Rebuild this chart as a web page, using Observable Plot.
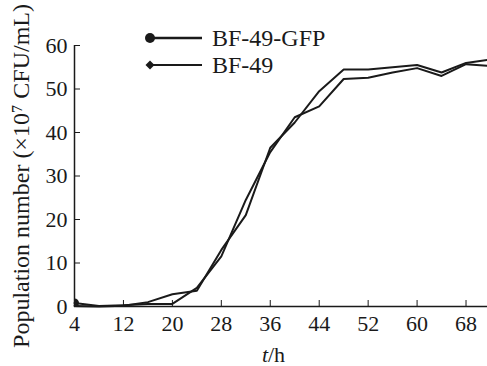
<!DOCTYPE html>
<html><head><meta charset="utf-8">
<script src="https://cdn.jsdelivr.net/npm/d3@7"></script>
<script src="https://cdn.jsdelivr.net/npm/@observablehq/plot@0.6"></script>
<style>
body{margin:0;background:#fff;}
#wrap{position:relative;width:487px;height:366px;overflow:hidden;font-family:"Liberation Serif","Times New Roman",serif;}
</style></head><body><div id="wrap"></div>
<script>
const hours = [4, 8, 12, 16, 20, 24, 28, 32, 36, 40, 44, 48, 52, 56, 60, 64, 68, 72];
const gfpValues = [0.8, 0.1, 0.3, 0.6, 0.6, 4.3, 11.5, 24.5, 35.5, 43.5, 46.0, 52.3, 52.6, 53.8, 54.8, 53.0, 55.7, 55.3];
const bf49Values = [0.1, 0.0, 0.2, 1.0, 2.8, 3.6, 13.0, 21.0, 36.5, 42.3, 49.5, 54.5, 54.5, 55.0, 55.5, 53.8, 56.0, 56.8];
const seriesNames = ["BF-49-GFP", "BF-49"];
const xTicks = [4, 12, 20, 28, 36, 44, 52, 60, 68];
const yTicks = [0, 10, 20, 30, 40, 50, 60];
const xLabel = "t/h";
const yLabel = "Population number (×10⁷ CFU/mL)";

const rows = [
  ...hours.map((t, i) => ({t, v: gfpValues[i], series: seriesNames[0]})),
  ...hours.map((t, i) => ({t, v: bf49Values[i], series: seriesNames[1]}))
];
const firstPoints = [rows[0], rows[hours.length]];
const ink = "#1a1a1a";
const font = '"Liberation Serif","Times New Roman",serif';

const chart = Plot.plot({
  width: 487, height: 366,
  marginLeft: 74, marginRight: -3, marginTop: 45, marginBottom: 60,
  style: {fontFamily: font, fontSize: "22px", color: ink, background: "#fff"},
  x: {domain: [4, 72]},
  y: {domain: [0, 60]},
  marks: [
    Plot.axisX({ticks: xTicks, tickSize: -6, tickPadding: 15, tickFormat: d => String(d), label: xLabel, labelAnchor: "center", labelArrow: "none", labelOffset: 55, stroke: ink}),
    Plot.axisY({ticks: yTicks, tickSize: -6, tickPadding: 13, tickFormat: d => String(d), label: yLabel, labelAnchor: "center", labelArrow: "none", labelOffset: 63, stroke: ink}),
    Plot.ruleX([4], {y1: 0, y2: 60, stroke: ink, strokeWidth: 1.5}),
    Plot.ruleY([0], {stroke: ink, strokeWidth: 1.5}),
    Plot.line(rows, {x: "t", y: "v", z: "series", stroke: ink, strokeWidth: 2}),
    Plot.dot(firstPoints, {x: "t", y: "v", symbol: d => d.series === seriesNames[0] ? "circle" : "diamond", r: 4.5, fill: ink, stroke: "none", clip: true})
  ]
});
document.getElementById("wrap").appendChild(chart);

const ns = "http://www.w3.org/2000/svg";
// italic t in x-axis label
const xl = chart.querySelector('[aria-label="x-axis label"] text');
if (xl) {
  xl.textContent = "";
  const t1 = document.createElementNS(ns, "tspan"); t1.setAttribute("font-style", "italic"); t1.textContent = "t";
  const t2 = document.createElementNS(ns, "tspan"); t2.textContent = "/h";
  xl.appendChild(t1); xl.appendChild(t2);
  xl.setAttribute("transform", (xl.getAttribute("transform") || "") + " translate(-9,0)");
}
// larger y-axis title
const yl = chart.querySelector('[aria-label="y-axis label"]');
if (yl) yl.setAttribute("font-size", "24");

// legend
const leg = d3.create("svg").attr("width", 487).attr("height", 100)
  .style("position", "absolute").style("left", "0").style("top", "0");
seriesNames.forEach((name, i) => {
  const y = 38 + i * 27;
  leg.append("line").attr("x1", 149).attr("x2", 202).attr("y1", y).attr("y2", y)
    .attr("stroke", ink).attr("stroke-width", i === 0 ? 2.5 : 1.8);
  if (i === 0) leg.append("circle").attr("cx", 150).attr("cy", y).attr("r", 5).attr("fill", ink);
  else leg.append("path").attr("d", `M${150},${y-4.5}L${154.5},${y}L${150},${y+4.5}L${145.5},${y}Z`).attr("fill", ink);
  leg.append("text").attr("x", 212).attr("y", y + 8).attr("font-family", font).attr("font-size", 24).attr("fill", ink).text(name);
});
document.getElementById("wrap").appendChild(leg.node());
</script>
</body></html>
